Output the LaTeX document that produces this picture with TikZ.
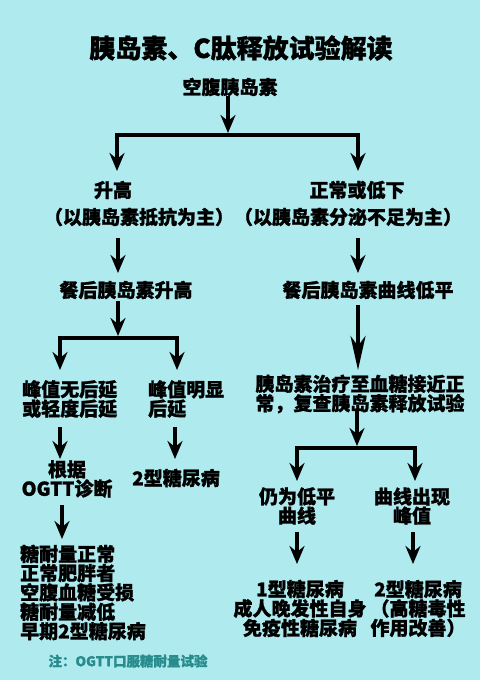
\documentclass[tikz,border=0pt]{standalone}
\usepackage{fontspec}
\setmainfont{Noto Sans CJK SC}[BoldFeatures={FakeBold=1.2}]
\usetikzlibrary{arrows.meta}
\definecolor{bg}{RGB}{174,234,238}
\definecolor{notec}{RGB}{40,140,140}
\begin{document}
\begin{tikzpicture}[x=1pt,y=-1pt,
  txt/.style={font=\fontsize{19}{17.6}\selectfont\bfseries, inner sep=0pt, align=center},
  ltxt/.style={txt, align=left, anchor=west},
  arr/.style={line width=3.5pt, -{Stealth[length=18pt,width=15pt,inset=6pt]}, line join=miter},
  longarr/.style={arr, -{Stealth[length=34pt,width=15pt,inset=10pt]}},
  ]
\fill[bg] (0,0) rectangle (480,680);
\useasboundingbox (0,0) rectangle (480,680);

% texts
\node[txt, font=\fontsize{26}{28}\selectfont\bfseries] (title) at (241,48) {胰岛素、C肽释放试验解读};
\node[txt] (fast) at (230,87) {空腹胰岛素};
\node[txt] (high) at (113,190) {升高};
\node[txt] (low) at (357,190) {正常或低下};
\node[txt] (parL) at (139,217) {（以胰岛素抵抗为主）};
\node[txt] (parR) at (348,217) {（以胰岛素分泌不足为主）};
\node[txt] (posth) at (126,290) {餐后胰岛素升高};
\node[txt] (postl) at (368,290) {餐后胰岛素曲线低平};
\node[ltxt] (peak1) at (22,399) {峰值无后延\\或轻度后延};
\node[ltxt] (peak2) at (148,399) {峰值明显\\后延};
\node[txt] (treat) at (360,394) {胰岛素治疗至血糖接近正\\常，复查胰岛素释放试验};
\node[txt] (basis) at (67,479) {根据\\OGTT诊断};
\node[txt] (t2a) at (176,478) {2型糖尿病};
\node[ltxt] (list) at (20,592.5) {糖耐量正常\\正常肥胖者\\空腹血糖受损\\糖耐量减低\\早期2型糖尿病};
\node[txt] (still) at (297,506) {仍为低平\\曲线};
\node[txt] (peakc) at (412,506) {曲线出现\\峰值};
\node[txt] (t1) at (300,608.5) {1型糖尿病\\成人晚发性自身\\免疫性糖尿病};
\node[txt] (t2b) at (418,608.5) {2型糖尿病\\（高糖毒性\\作用改善）};
\node[txt, font=\fontsize{13.5}{15}\selectfont\bfseries, text=notec] (note) at (128,661) {注：OGTT口服糖耐量试验};

% connector points
\coordinate (s1) at (228,96);   \coordinate (j1) at (228,133);
\coordinate (b1) at (228,135);
\coordinate (e1l) at (117,171); \coordinate (e1r) at (358,171);
\coordinate (s2l) at (118,238); \coordinate (e2l) at (118,273);
\coordinate (s2r) at (358,238); \coordinate (e2r) at (358,273);
\coordinate (s3) at (118,301);  \coordinate (j2) at (118,336);
\coordinate (b2) at (118,338);
\coordinate (e3l) at (60,370);  \coordinate (e3r) at (177,370);
\coordinate (s4) at (358,305);  \coordinate (e4) at (358,370);
\coordinate (s5l) at (60,427);  \coordinate (e5l) at (60,459);
\coordinate (s5m) at (175,427); \coordinate (e5m) at (175,459);
\coordinate (s5r) at (357,411); \coordinate (j3) at (357,446);
\coordinate (b3) at (357,448);
\coordinate (e6l) at (297,481); \coordinate (e6r) at (415,481);
\coordinate (s7) at (62,505);   \coordinate (e7) at (62,539);
\coordinate (s8l) at (297,532); \coordinate (e8l) at (297,564);
\coordinate (s8r) at (413,532); \coordinate (e8r) at (413,564);

% connectors
\draw[arr] (b1) -| (e1l);
\draw[arr] (b1) -| (e1r);
\draw[arr] (s1) -- (j1);
\draw[arr] (s2l) -- (e2l);
\draw[arr] (s2r) -- (e2r);
\draw[arr] (s3) -- (j2);
\draw[arr] (b2) -| (e3l);
\draw[arr] (b2) -| (e3r);
\draw[longarr] (s4) -- (e4);
\draw[arr] (s5l) -- (e5l);
\draw[arr] (s5m) -- (e5m);
\draw[arr] (s5r) -- (j3);
\draw[arr] (b3) -| (e6l);
\draw[arr] (b3) -| (e6r);
\draw[arr] (s7) -- (e7);
\draw[arr] (s8l) -- (e8l);
\draw[arr] (s8r) -- (e8r);
\end{tikzpicture}
\end{document}
